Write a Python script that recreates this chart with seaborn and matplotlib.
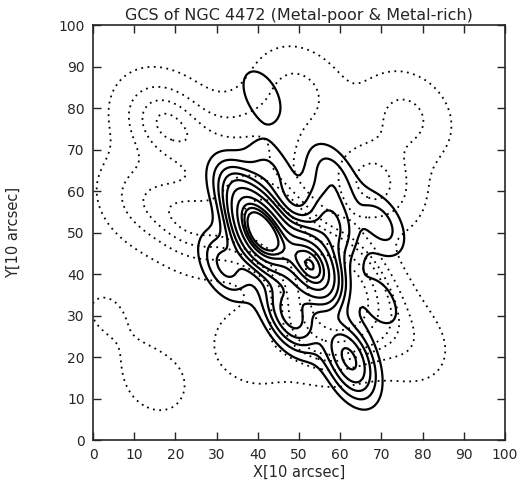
import matplotlib
matplotlib.use("Agg")
import matplotlib.pyplot as plt
import seaborn as sns
import numpy as np
import pandas as pd

# density clumps (x, y in units of 10 arcsec, relative weight)
rich_x = [41, 53, 48, 62, 63, 58, 70, 43, 41, 20, 32, 70, 35, 58]
rich_y = [50, 42, 30, 21, 15, 64, 52, 65, 83, 68, 42, 33, 60, 52]
rich_w = [10, 8, 3, 2.2, 1.0, 1.2, 1.2, 1.0, 0.9, 0.15, 1.6, 0.75, 2, 2]

poor_x = [17, 50, 76, 12, 25, 43, 58, 55, 77, 15, 3, 38, 68, 30, 64, 42]
poor_y = [77, 84, 78, 58, 52, 52, 40, 27, 23, 14, 31, 22, 62, 68, 32, 72]
poor_w = [1.6, 1.0, 1.0, 1, 1.5, 3, 3, 2, 0.6, 0.5, 0.35, 0.6, 1.5, 1, 2, 1]

rich_levels = [0.08, 0.18, 0.28, 0.38, 0.48, 0.58, 0.67, 0.76, 0.84, 0.91]
poor_levels = [0.08, 0.27, 0.45, 0.6, 0.75, 0.88]

rich = pd.DataFrame({"x": rich_x, "y": rich_y, "w": rich_w})
poor = pd.DataFrame({"x": poor_x, "y": poor_y, "w": poor_w})

sns.set_style("ticks")
fig = plt.figure(figsize=(5.24, 4.83), dpi=100)
ax = fig.add_axes([0.1775, 0.089, 0.786, 0.859])

sns.kdeplot(data=poor, x="x", y="y", weights="w", bw_method=0.36, levels=poor_levels,
            cut=6, gridsize=200, color="black", linestyles=[(0, (1, 2.5))],
            linewidths=1.3, ax=ax)
sns.kdeplot(data=rich, x="x", y="y", weights="w", bw_method=0.4, levels=rich_levels,
            cut=6, gridsize=200, color="black", linestyles="solid",
            linewidths=1.6, ax=ax)

ax.set_xlim(0, 100)
ax.set_ylim(0, 100)
ax.set_xticks(range(0, 101, 10))
ax.set_yticks(range(0, 101, 10))
ax.tick_params(direction="in", top=True, right=True, length=6, width=1,
               labelsize=10, pad=6)
for s in ax.spines.values():
    s.set_linewidth(1.2)
ax.set_xlabel("X[10 arcsec]", fontsize=10.5, labelpad=2)
ax.set_ylabel("Y[10 arcsec]", fontsize=10.5, labelpad=27)
ax.set_title("GCS of NGC 4472 (Metal-poor & Metal-rich)", fontsize=11.5, pad=4)

fig.savefig("out.png", dpi=100)
